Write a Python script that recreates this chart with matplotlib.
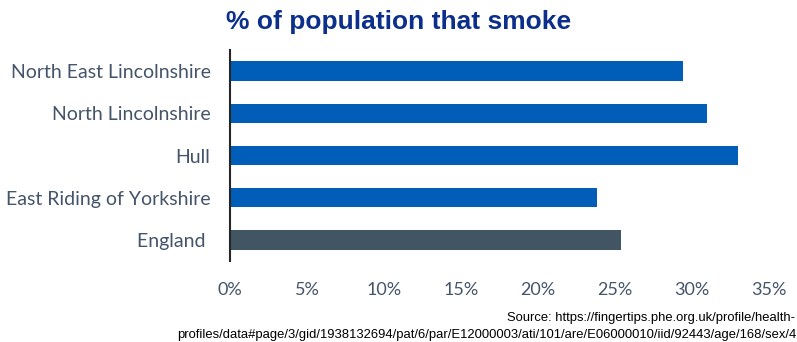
import matplotlib
matplotlib.use("Agg")
import matplotlib.pyplot as plt
from matplotlib.ticker import PercentFormatter

categories = ["North East Lincolnshire", "North Lincolnshire", "Hull",
              "East Riding of Yorkshire", "England "]
values = [29.4, 31.0, 33.0, 23.8, 25.4]
colors = ["#005EB8", "#005EB8", "#005EB8", "#005EB8", "#425563"]
xticks = [0, 5, 10, 15, 20, 25, 30, 35]

fig = plt.figure(figsize=(7.97, 3.42), dpi=100)
ax = fig.add_axes([230/797, 1 - 261/342, (769-230)/797, (261-50)/342])

y = list(range(len(categories)))
ax.barh(y, values, height=0.46, color=colors)
ax.set_yticks(y)
ax.set_yticklabels(categories, family="Lato", fontsize=14, color="#44546A")
ax.set_ylim(-0.5, len(categories) - 0.5)
ax.invert_yaxis()
ax.set_xlim(0, 35)
ax.set_xticks(xticks)
ax.xaxis.set_major_formatter(PercentFormatter(decimals=0))
for lbl in ax.get_xticklabels():
    lbl.set_family("Lato")
    lbl.set_fontsize(13)
    lbl.set_color("#44546A")
ax.tick_params(axis="x", length=0, pad=15)
ax.tick_params(axis="y", length=0, pad=14)
for s in ["top", "right", "bottom"]:
    ax.spines[s].set_visible(False)
ax.spines["left"].set_color("#262626")
ax.spines["left"].set_linewidth(1.5)

fig.text(0.5, 1 - 22/342, "% of population that smoke", ha="center", va="center",
         family="Liberation Sans", fontweight="bold", fontsize=19, color="#0B2F8A")
fig.text(795/797, 1 - 318/342, "Source: https://fingertips.phe.org.uk/profile/health-",
         ha="right", va="center", family="Liberation Sans", fontsize=9.4, color="black")
fig.text(796/797, 1 - 335/342,
         "profiles/data#page/3/gid/1938132694/pat/6/par/E12000003/ati/101/are/E06000010/iid/92443/age/168/sex/4",
         ha="right", va="center", family="Liberation Sans", fontsize=9.4, color="black")

fig.savefig("out.png", dpi=100)
